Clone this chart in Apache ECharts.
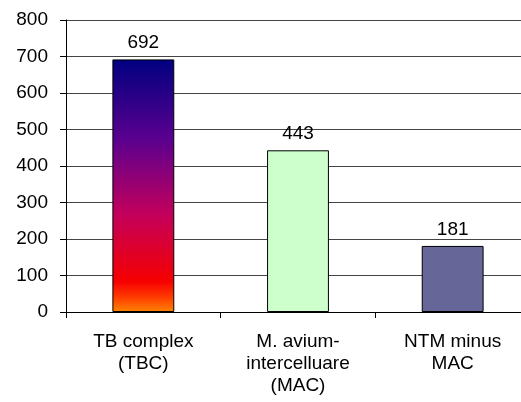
<!DOCTYPE html>
<html>
<head>
<meta charset="utf-8">
<script src="https://cdn.jsdelivr.net/npm/echarts@6/dist/echarts.min.js"></script>
<style>
  html, body { margin: 0; padding: 0; background: #fff; }
  #chart { width: 521px; height: 402px; }
</style>
</head>
<body>
<div id="chart"></div>
<script>
// Isolate counts by mycobacterial group
const categories = ['TB complex\n(TBC)', 'M. avium-\nintercelluare\n(MAC)', 'NTM minus\nMAC'];
const counts = [692, 443, 181];
const yTicks = [0, 100, 200, 300, 400, 500, 600, 700, 800];

const tbGradient = new echarts.graphic.LinearGradient(0, 0, 0, 1, [
  { offset: 0, color: '#000080' },
  { offset: 0.32, color: '#5c008f' },
  { offset: 0.61, color: '#c2005c' },
  { offset: 0.88, color: '#f60000' },
  { offset: 0.94, color: '#ff3a00' },
  { offset: 1, color: '#ff8400' }
]);
const fills = [tbGradient, '#ccffcc', '#666699'];
const FONT = 'Liberation Sans, Arial, sans-serif';

const chart = echarts.init(document.getElementById('chart'), null, { renderer: 'canvas' });
chart.setOption({
  animation: false,
  backgroundColor: '#ffffff',
  textStyle: { fontFamily: FONT },
  // the plot runs past the right edge of the canvas, so the last category is clipped
  grid: { left: 66, top: 20, width: 464, height: 292, containLabel: false, outerBoundsMode: 'none' },
  xAxis: {
    type: 'category',
    data: categories,
    boundaryGap: true,
    axisLine: { lineStyle: { color: '#000', width: 1 } },
    axisTick: { show: true, alignWithLabel: false, length: 6, lineStyle: { color: '#000' } },
    axisLabel: {
      color: '#000', fontSize: 19, lineHeight: 22, margin: 19, interval: 0,
      fontFamily: FONT
    },
    splitLine: { show: false }
  },
  yAxis: {
    type: 'value',
    min: yTicks[0],
    max: yTicks[yTicks.length - 1],
    interval: 100,
    axisLine: { show: true, lineStyle: { color: '#000', width: 1 } },
    axisTick: { show: true, length: 6, lineStyle: { color: '#000' } },
    axisLabel: {
      color: '#000', fontSize: 19, margin: 18,
      fontFamily: FONT
    },
    splitLine: { show: true, lineStyle: { color: '#444', width: 1 } }
  },
  series: [{
    type: 'bar',
    data: counts.map((v, i) => ({ value: v, itemStyle: { color: fills[i] } })),
    barWidth: '40%',
    itemStyle: { borderColor: '#000', borderWidth: 1 },
    label: {
      show: true, position: 'top', distance: 7, color: '#000', fontSize: 19,
      fontFamily: FONT
    }
  }]
});
</script>
</body>
</html>
